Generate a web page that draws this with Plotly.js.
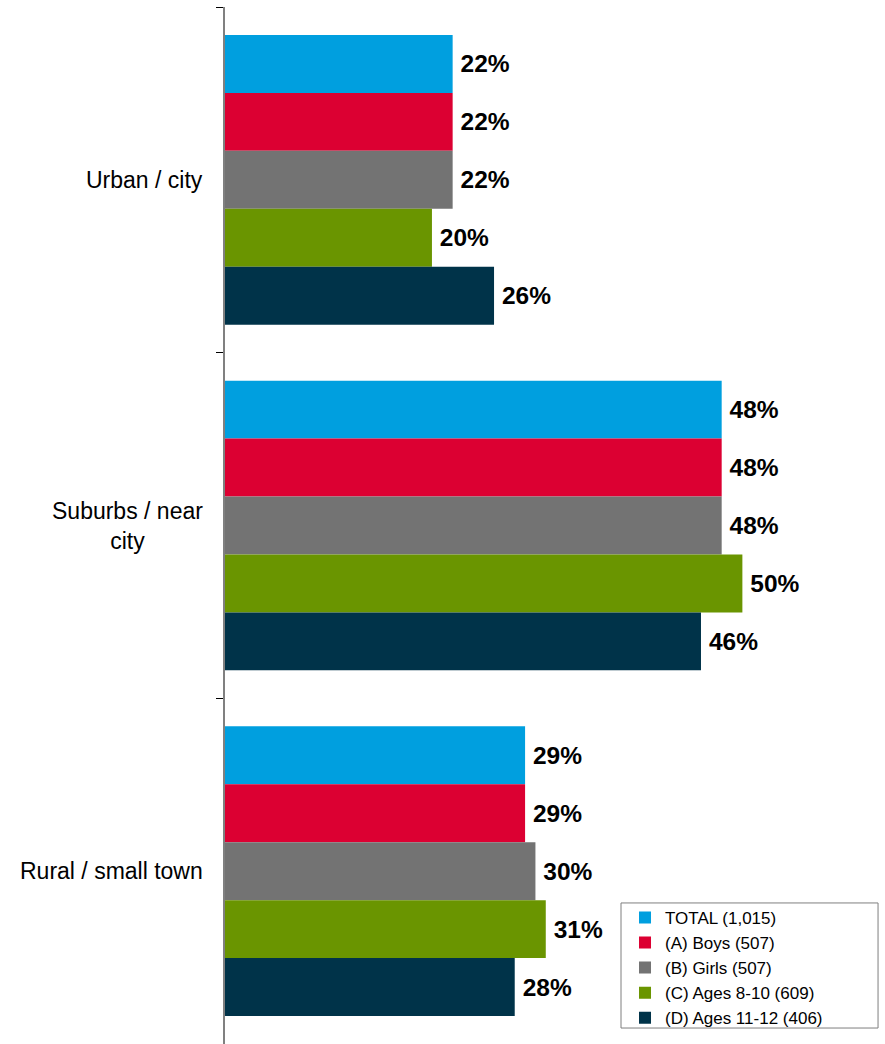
<!DOCTYPE html>
<html><head><meta charset="utf-8">
<script src="https://cdn.plot.ly/plotly-3.0.1.min.js"></script>
<style>html,body{margin:0;padding:0;background:#fff}</style>
</head><body>
<div id="chart" style="width:885px;height:1044px"></div>
<script>
var categories = ["Urban / city", "Suburbs / near city", "Rural / small town"];
var categoryLabels = ["Urban / city", "Suburbs / near<br>city", "Rural / small town"];
var seriesNames = ["TOTAL (1,015)", "(A) Boys (507)", "(B) Girls (507)", "(C) Ages 8-10 (609)", "(D) Ages 11-12 (406)"];
var seriesColors = ["#009FDF", "#DC0032", "#737373", "#6A9500", "#003349"];
var totalVals = [22, 48, 29];
var boysVals = [22, 48, 29];
var girlsVals = [22, 48, 30];
var ages810Vals = [20, 50, 31];
var ages1112Vals = [26, 46, 28];
var seriesValues = [totalVals, boysVals, girlsVals, ages810Vals, ages1112Vals];

var traces = seriesValues.map(function(vals, i){
  return {
    type: 'bar', orientation: 'h',
    name: seriesNames[i],
    y: categories, x: vals,
    marker: {color: seriesColors[i], line: {width: 0}},
    text: vals.map(function(v){return '\u2009' + v + '%';}),
    textposition: 'outside',
    textfont: {family: 'Arial, Liberation Sans, sans-serif', size: 24.5, color: '#000', weight: 'bold'},
    cliponaxis: false,
    hoverinfo: 'none'
  };
});

var annotations = categories.map(function(c, i){
  return {
    x: 0, xref: 'paper', xanchor: 'right', xshift: -20,
    y: c, yref: 'y', yanchor: 'middle',
    text: categoryLabels[i], showarrow: false, align: 'center',
    font: {family: 'Arial, Liberation Sans, sans-serif', size: 23, color: '#000'}
  };
});

var layout = {
  width: 885, height: 1044,
  margin: {l: 225, r: 5, t: 7, b: 0},
  paper_bgcolor: '#fff', plot_bgcolor: '#fff',
  barmode: 'group', bargap: 0.162, bargroupgap: 0,
  showlegend: true,
  legend: {
    x: 0.6107, y: 0.139, xanchor: 'left', yanchor: 'top',
    bgcolor: 'rgba(0,0,0,0)', borderwidth: 0,
    font: {family: 'Arial, Liberation Sans, sans-serif', size: 17, color: '#000'},
    traceorder: 'normal', itemwidth: 30, tracegroupgap: 0
  },
  shapes: [{
    type: 'rect', xref: 'paper', yref: 'paper',
    x0: 0.6046, x1: 0.997, y0: 0.0154, y1: 0.136,
    line: {color: '#7f7f7f', width: 1}, fillcolor: '#fff', layer: 'above'
  }],
  xaxis: {range: [0, 63.3], visible: false, fixedrange: true},
  yaxis: {
    type: 'category', autorange: 'reversed',
    showticklabels: false, showline: true, linecolor: '#808080', linewidth: 2,
    ticks: 'outside', tickson: 'boundaries', ticklen: 7, tickcolor: '#000', tickwidth: 1,
    showgrid: false, zeroline: false
  },
  annotations: annotations,
  font: {family: 'Arial, Liberation Sans, sans-serif'}
};

Plotly.newPlot('chart', traces, layout, {displayModeBar: false, staticPlot: true});
</script>
</body></html>
